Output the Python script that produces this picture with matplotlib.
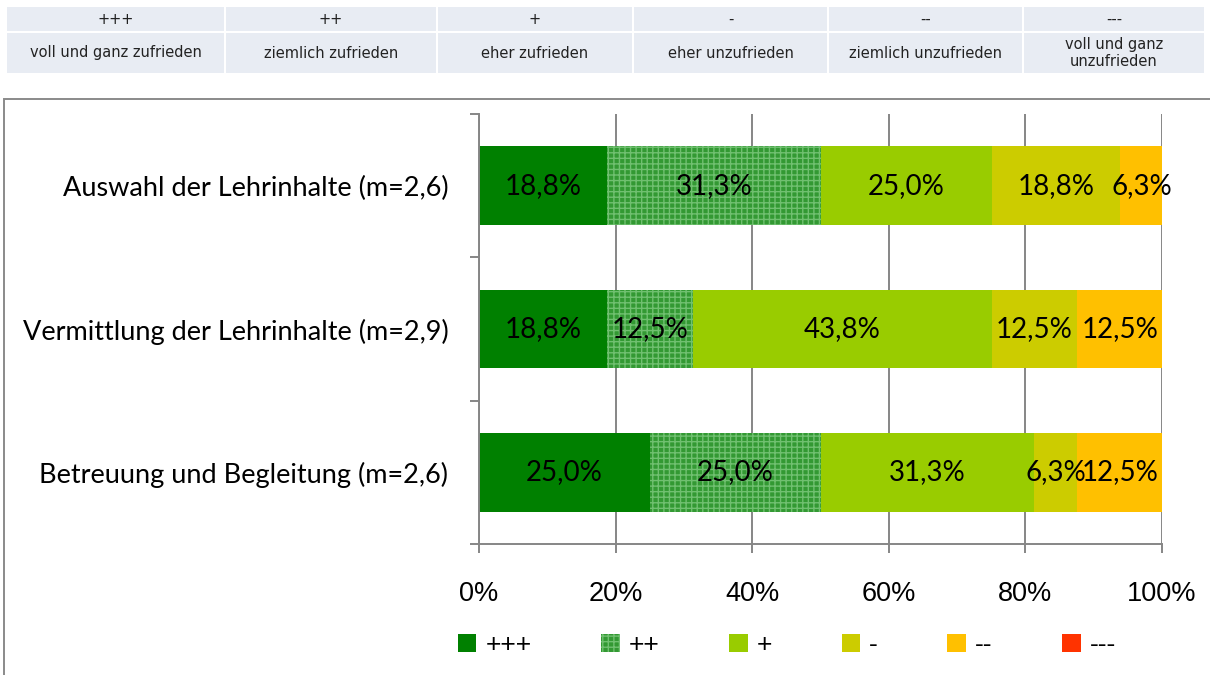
import matplotlib
matplotlib.use('Agg')
import matplotlib.pyplot as plt
from matplotlib.patches import Rectangle
import numpy as np

# survey results (percent of answers per item)
items = ['Auswahl der Lehrinhalte (m=2,6)',
         'Vermittlung der Lehrinhalte (m=2,9)',
         'Betreuung und Begleitung (m=2,6)']
scale_keys = ['+++', '++', '+', '-', '--', '---']
scale_text = ['voll und ganz zufrieden', 'ziemlich zufrieden', 'eher zufrieden',
              'eher unzufrieden', 'ziemlich unzufrieden', 'voll und ganz\nunzufrieden']
p3plus = [18.8, 18.8, 25.0]
p2plus = [31.3, 12.5, 25.0]
p1plus = [25.0, 43.8, 31.3]
p1minus = [18.8, 12.5, 6.3]
p2minus = [6.3, 12.5, 12.5]
p3minus = [0.0, 0.0, 0.0]
x_ticks = [0, 20, 40, 60, 80, 100]

colors = ['#008000', '#339933', '#99cc00', '#cccc00', '#ffc000', '#ff3300']
hatches = [None, '+++', None, None, None, None]

plt.rcParams['hatch.linewidth'] = 1.0

fig = plt.figure(figsize=(12.1, 6.75), dpi=100)
W, H = 1210., 675.

# scale legend table on top
col_edges = [6, 225, 437, 633, 828, 1023, 1205]
rows = [(7, 31), (33, 73)]
for i in range(6):
    x0, x1 = col_edges[i] + 1, col_edges[i + 1] - 1
    for r, (y0, y1) in enumerate(rows):
        fig.patches.append(Rectangle((x0 / W, 1 - y1 / H), (x1 - x0) / W, (y1 - y0) / H,
                                     transform=fig.transFigure, facecolor='#e8ecf3',
                                     edgecolor='none', zorder=0))
        txt = scale_keys[i] if r == 0 else scale_text[i]
        fig.text((x0 + x1) / 2 / W, 1 - (y0 + y1) / 2 / H, txt, ha='center', va='center',
                 fontsize=10.5, family='DejaVu Sans', color='#222222', linespacing=1.1)

# chart frame
fig.patches.append(Rectangle((4 / W, -0.1), 1.2, 1 - 99 / H + 0.1, transform=fig.transFigure,
                             facecolor='none', edgecolor='#8a8a8a', lw=1.4, zorder=0))

ax = fig.add_axes([479 / W, 1 - 544 / H, (1162 - 479) / W, (544 - 114) / H])

data = [p3plus, p2plus, p1plus, p1minus, p2minus, p3minus]
ypos = np.arange(len(items))
left = np.zeros(len(items))
for k, vals in enumerate(data):
    vals = np.array(vals)
    ec = '#70c070' if hatches[k] else colors[k]
    bars = ax.barh(ypos, vals, left=left, height=0.55, color=colors[k], edgecolor=ec,
                   hatch=hatches[k], lw=0, label=scale_keys[k], zorder=2)
    for b, v, l in zip(bars, vals, left):
        if v > 0:
            ax.text(l + v / 2, b.get_y() + b.get_height() / 2,
                    ('%.1f%%' % v).replace('.', ','), ha='center', va='center',
                    fontsize=20, family='Lato', color='black', zorder=3)
    left = left + vals

ax.set_xlim(0, 100)
ax.set_ylim(2.5, -0.5)
ax.set_xticks(x_ticks)
ax.set_xticklabels(['%d%%' % t for t in x_ticks], family='Liberation Sans', fontsize=19.5)
ax.tick_params(axis='x', direction='out', length=6.5, width=1.4, color='#868686', pad=20)

ax.set_yticks([-0.5, 0.5, 1.5, 2.5])
ax.set_yticklabels([])
ax.set_yticks(ypos, minor=True)
ax.set_yticklabels(items, minor=True, family='Lato', fontsize=19.5)
ax.tick_params(axis='y', which='major', direction='out', length=6.5, width=1.4, color='#868686')
ax.tick_params(axis='y', which='minor', length=0, pad=22)

ax.grid(axis='x', color='#868686', lw=1.4, zorder=1)
ax.set_axisbelow(True)
for s in ['top', 'right']:
    ax.spines[s].set_visible(False)
for s in ['left', 'bottom']:
    ax.spines[s].set_color('#868686')
    ax.spines[s].set_linewidth(1.4)
    ax.spines[s].set_zorder(4)

leg = fig.legend(loc='center left', bbox_to_anchor=(458 / W, 1 - 645 / H), ncol=6,
                 frameon=False, prop={'family': 'Liberation Sans', 'size': 19},
                 handlelength=0.7, handleheight=0.7, handletextpad=0.35,
                 columnspacing=2.63, borderaxespad=0, borderpad=0)

fig.savefig('out.png', dpi=100)
